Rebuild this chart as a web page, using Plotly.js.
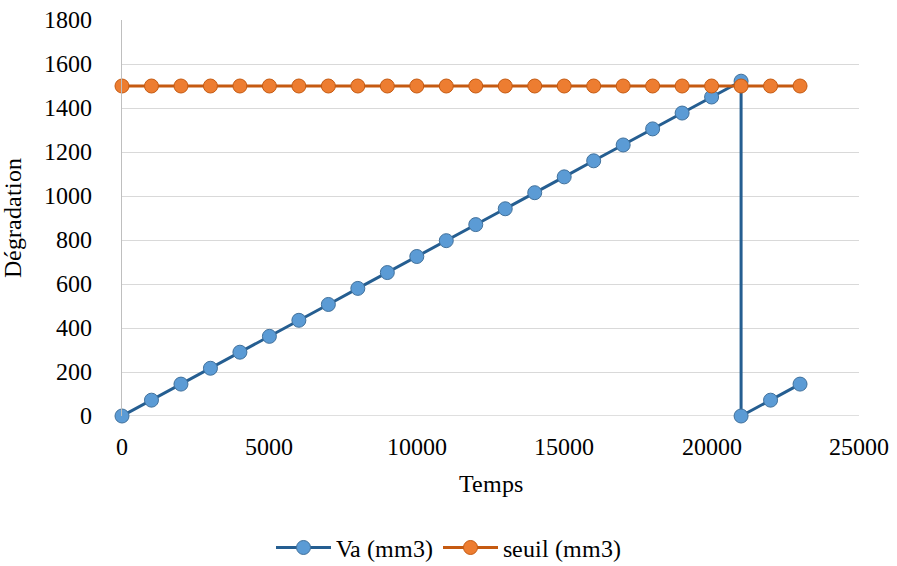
<!DOCTYPE html>
<html><head><meta charset="utf-8">
<script src="https://cdn.plot.ly/plotly-3.0.1.min.js"></script>
<style>
@font-face { font-family: 'ChartSerif'; src: local('Liberation Serif'), local('LiberationSerif'), local('Liberation Serif Regular'), local('LiberationSerif-Regular'); }
html,body{margin:0;padding:0;background:#fff}
#chart{width:897px;height:566px}
#warm{position:absolute;left:0;top:0;font-family:'ChartSerif','Liberation Serif',serif;font-size:24px;color:#fff;opacity:0.01;pointer-events:none;white-space:nowrap}
</style>
</head><body><div id="warm">0123456789 Va (mm3) seuil Temps Dégradation</div><div id="chart"></div>
<script>
const vaTemps = [0,1000,2000,3000,4000,5000,6000,7000,8000,9000,10000,11000,12000,13000,14000,15000,16000,17000,18000,19000,20000,21000,21000,22000,23000];
const vaValues = [0,72,145,217,290,362,435,507,580,652,725,797,870,942,1015,1087,1160,1232,1305,1377,1450,1522,0,72,145];
const seuilTemps = [0,1000,2000,3000,4000,5000,6000,7000,8000,9000,10000,11000,12000,13000,14000,15000,16000,17000,18000,19000,20000,21000,22000,23000];
const seuilValues = [1500,1500,1500,1500,1500,1500,1500,1500,1500,1500,1500,1500,1500,1500,1500,1500,1500,1500,1500,1500,1500,1500,1500,1500];
const fontFam = 'ChartSerif, Liberation Serif, Times New Roman, serif';
function F() { return {family: fontFam, size: 24, color: '#000'}; }
const data = [
  {x: vaTemps, y: vaValues, name: 'Va (mm3)', type: 'scatter', mode: 'lines+markers', cliponaxis: false,
   line: {color: '#255E91', width: 3},
   marker: {size: 14, color: '#5B9BD5', line: {color: '#41719C', width: 1}}},
  {x: seuilTemps, y: seuilValues, name: 'seuil (mm3)', type: 'scatter', mode: 'lines+markers', cliponaxis: false,
   line: {color: '#C55A11', width: 3},
   marker: {size: 14, color: '#ED7D31', line: {color: '#C55A11', width: 1}}}
];
const layout = {
  width: 897, height: 566,
  margin: {l: 122, r: 38, t: 20, b: 150},
  paper_bgcolor: '#fff', plot_bgcolor: '#fff',
  font: F(),
  showlegend: true,
  legend: {orientation: 'h', xref: 'container', yref: 'container', x: 0.5, xanchor: 'center', y: 0.032, yanchor: 'middle', font: F(), itemwidth: 55},
  xaxis: {range: [0, 25000], dtick: 5000, tickformat: 'd', showgrid: false, zeroline: false, automargin: false,
    showline: false, ticks: '', ticklabelstandoff: 14, tickfont: F(),
    title: {text: 'Temps', font: F(), standoff: 16}},
  yaxis: {range: [0, 1800], dtick: 200, tickformat: 'd', showgrid: true, gridcolor: '#D9D9D9', gridwidth: 1, automargin: false,
    zeroline: false, showline: true, linecolor: '#BFBFBF', linewidth: 1, mirror: false,
    ticks: '', ticklabelstandoff: 24, tickfont: F(),
    title: {text: 'Dégradation', font: F(), standoff: 18}},
  shapes: [{type: 'line', xref: 'paper', yref: 'y', x0: 0, x1: 1, y0: 0, y1: 0, line: {color: '#BFBFBF', width: 1}, layer: 'below'}]
};
const config = {displayModeBar: false, staticPlot: true};
function draw() {
  return Plotly.newPlot('chart', data, layout, config).then(function(gd){
    document.querySelectorAll('#chart svg text').forEach(function(t){ void getComputedStyle(t).fontFamily; });
    return gd;
  });
}
let ready = Promise.resolve();
if (document.fonts && document.fonts.load) {
  ready = Promise.all([document.fonts.load('24px ChartSerif'), document.fonts.ready]).catch(function(){});
}
ready.then(draw, draw).then(function(){
  setTimeout(function(){ Plotly.purge('chart'); draw(); }, 150);
});
</script></body></html>
